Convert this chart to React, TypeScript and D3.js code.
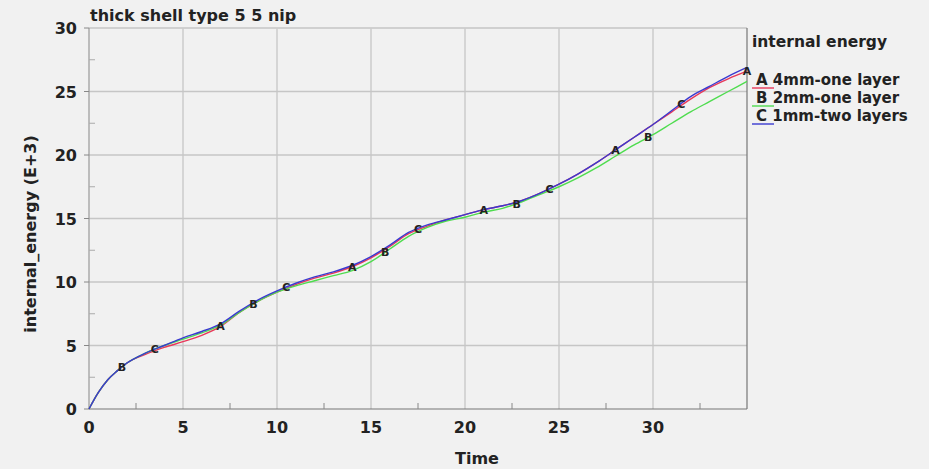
import React from "react";
import * as d3 from "d3";

const timeA = [0, 0.5, 1, 1.5, 2, 3, 4, 5, 6, 7, 8, 9, 10, 11, 12, 13, 14, 15, 16, 17, 18, 19, 20, 21, 22, 23, 24, 25, 26, 27, 28, 29, 30, 31, 32, 33, 34, 35];
const seriesA = [0, 1.3, 2.3, 3.0, 3.6, 4.3, 4.85, 5.3, 5.8, 6.5, 7.6, 8.5, 9.2, 9.8, 10.3, 10.7, 11.2, 11.9, 12.8, 13.8, 14.4, 14.9, 15.3, 15.7, 16.0, 16.4, 17.0, 17.7, 18.5, 19.4, 20.4, 21.4, 22.4, 23.4, 24.4, 25.3, 26.0, 26.6];
const seriesB = [0, 1.3, 2.3, 3.0, 3.6, 4.4, 5.0, 5.5, 6.0, 6.6, 7.6, 8.5, 9.2, 9.7, 10.1, 10.5, 10.9, 11.6, 12.6, 13.6, 14.3, 14.8, 15.1, 15.5, 15.8, 16.3, 16.9, 17.5, 18.2, 19.0, 19.9, 20.8, 21.6, 22.5, 23.4, 24.2, 25.0, 25.8];
const seriesC = [0, 1.3, 2.3, 3.0, 3.6, 4.4, 5.0, 5.6, 6.1, 6.7, 7.7, 8.6, 9.3, 9.9, 10.4, 10.8, 11.3, 12.0, 12.9, 13.9, 14.5, 14.9, 15.3, 15.7, 16.0, 16.4, 17.0, 17.7, 18.5, 19.4, 20.4, 21.4, 22.4, 23.5, 24.6, 25.4, 26.2, 26.9];

const markerTimesA = [7, 14, 21, 28, 35];
const markerTimesB = [1.75, 8.75, 15.75, 22.75, 29.75];
const markerTimesC = [3.5, 10.5, 17.5, 24.5, 31.5];

const xTicks = [0, 5, 10, 15, 20, 25, 30];
const yTicks = [0, 5, 10, 15, 20, 25, 30];
const xMinor = [2.5, 7.5, 12.5, 17.5, 22.5, 27.5, 32.5];
const yMinor = [2.5, 7.5, 12.5, 17.5, 22.5, 27.5];

const legendTitle = "internal energy";
const legendLabels = ["4mm-one layer", "2mm-one layer", "1mm-two layers"];
const letters = ["A", "B", "C"];
const colors = ["#e8385a", "#4fdc4f", "#3a3ad0"];

const W = 929, H = 469;
const left = 89, right = 747, top = 28, bottom = 409;
const font = "DejaVu Sans, Verdana, sans-serif";

export default function App() {
  const x = d3.scaleLinear().domain([0, 35]).range([left, right]);
  const y = d3.scaleLinear().domain([0, 30]).range([bottom, top]);
  const series = [seriesA, seriesB, seriesC];
  const markers = [markerTimesA, markerTimesB, markerTimesC];
  const line = d3.line<number>().x((_, i) => x(timeA[i])).y((d) => y(d)).curve(d3.curveMonotoneX);
  const interp = (s: number[], t: number) => {
    const i = Math.min(timeA.length - 2, d3.bisectRight(timeA, t) - 1);
    const t0 = timeA[i], t1 = timeA[i + 1];
    const f = (t - t0) / (t1 - t0);
    return s[i] + (s[i + 1] - s[i]) * f;
  };
  return (
    <svg width={W} height={H} style={{ position: "absolute", left: 0, top: 0, background: "#f1f1f1" }} fontFamily={font}>
      <rect x={0} y={0} width={W} height={H} fill="#f1f1f1" />
      {xTicks.slice(1).map((t) => (
        <line key={"gx" + t} x1={x(t)} x2={x(t)} y1={top} y2={bottom} stroke="#c6c6c6" strokeWidth={1.3} />
      ))}
      {yTicks.slice(1).map((t) => (
        <line key={"gy" + t} x1={left} x2={right} y1={y(t)} y2={y(t)} stroke="#c6c6c6" strokeWidth={1.3} />
      ))}
      <line x1={left} x2={right} y1={top} y2={top} stroke="#cfcfcf" strokeWidth={1.2} />
      <line x1={right} x2={right} y1={top} y2={bottom} stroke="#777" strokeWidth={1.2} />
      <line x1={left} x2={left} y1={top} y2={bottom} stroke="#999" strokeWidth={1.2} />
      <line x1={left} x2={right} y1={bottom} y2={bottom} stroke="#777" strokeWidth={1.2} />
      {xMinor.map((t) => (
        <line key={"mx" + t} x1={x(t)} x2={x(t)} y1={bottom} y2={bottom - 6} stroke="#888" />
      ))}
      {yMinor.map((t) => (
        <line key={"my" + t} x1={left} x2={left + 6} y1={y(t)} y2={y(t)} stroke="#aaa" />
      ))}
      {yTicks.map((t) => (
        <line key={"ty" + t} x1={left - 5} x2={left} y1={y(t)} y2={y(t)} stroke="#888" />
      ))}
      {xTicks.map((t) => (
        <text key={"lx" + t} x={x(t)} y={433} textAnchor="middle" fontSize={16} fontWeight="bold" fill="#222">{t}</text>
      ))}
      {yTicks.map((t) => (
        <text key={"ly" + t} x={left - 12} y={y(t) + 6} textAnchor="end" fontSize={16} fontWeight="bold" fill="#222">{t}</text>
      ))}
      <text x={477} y={464} textAnchor="middle" fontSize={16} fontWeight="bold" fill="#222">Time</text>
      <text transform={`translate(36,234) rotate(-90)`} textAnchor="middle" fontSize={16} fontWeight="bold" fill="#222">internal_energy (E+3)</text>
      <text x={90} y={21} fontSize={16} fontWeight="bold" fill="#222">thick shell type 5 5 nip</text>
      {series.map((s, k) => (
        <path key={"c" + k} d={line(s) || ""} fill="none" stroke={colors[k]} strokeWidth={1.4} />
      ))}
      {markers.map((ts, k) =>
        ts.map((t) => (
          <text key={"m" + k + t} x={x(t)} y={y(interp(series[k], t)) + 4} textAnchor="middle" fontSize={11} fontWeight="bold" fill="#222">{letters[k]}</text>
        ))
      )}
      <text x={752} y={47} fontSize={15.5} fontWeight="bold" fill="#222">{legendTitle}</text>
      {legendLabels.map((l, k) => (
        <g key={"lg" + k}>
          <line x1={752} x2={774} y1={88 + k * 18} y2={88 + k * 18} stroke={colors[k]} strokeWidth={1.4} />
          <text x={756} y={85 + k * 18} fontSize={15} fontWeight="bold" fill="#222">{letters[k] + " " + l}</text>
        </g>
      ))}
    </svg>
  );
}
